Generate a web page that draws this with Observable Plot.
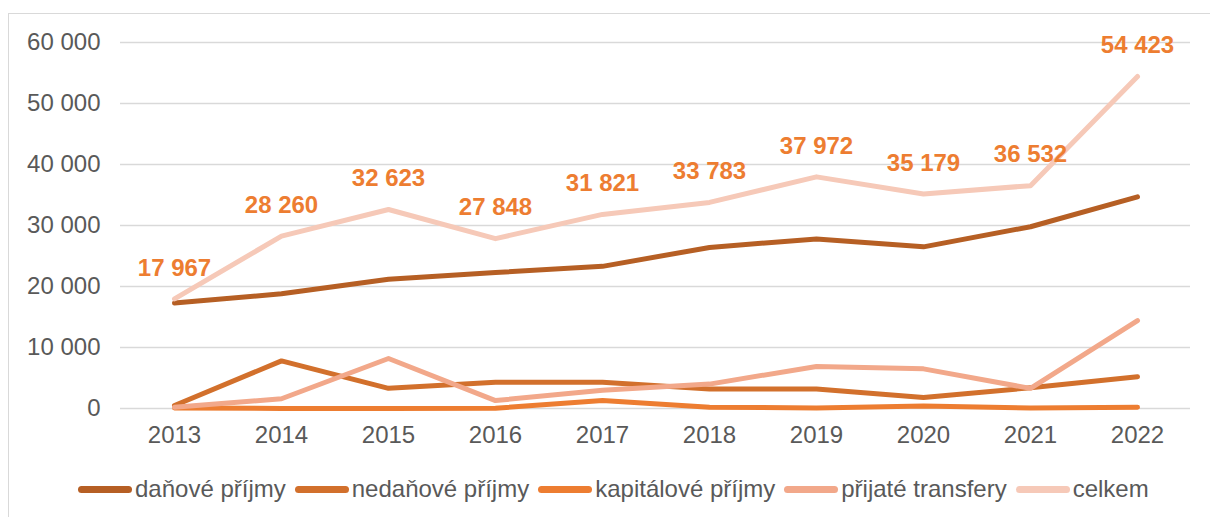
<!DOCTYPE html>
<html>
<head>
<meta charset="utf-8">
<script src="https://cdn.jsdelivr.net/npm/d3@7"></script>
<script src="https://cdn.jsdelivr.net/npm/@observablehq/plot@0.6"></script>
<style>
  html, body { margin: 0; padding: 0; background: #fff; }
  body { width: 1210px; height: 517px; position: relative; overflow: hidden; font-family: "Liberation Sans", Arial, sans-serif; }
  #frame { position: absolute; left: 8px; top: 13px; right: -5px; bottom: -5px; border-top: 1.5px solid #d9d9d9; border-left: 1.5px solid #d9d9d9; }
  #chart { position: absolute; left: 0; top: 0; }
  #legend { position: absolute; left: 78px; top: 475px; display: flex; gap: 9px; font-size: 24px; color: #595959; white-space: nowrap; }
  .item { display: flex; align-items: center; gap: 3px; }
  .sw { width: 54px; height: 7px; border-radius: 4px; }
</style>
</head>
<body>
<div id="frame"></div>
<div id="chart"></div>
<div id="legend"></div>
<script>
const years = ["2013","2014","2015","2016","2017","2018","2019","2020","2021","2022"];
const danove = [17300, 18800, 21200, 22300, 23300, 26400, 27800, 26500, 29800, 34700];
const nedanove = [500, 7800, 3300, 4300, 4300, 3200, 3200, 1800, 3400, 5200];
const kapitalove = [100, 0, 0, 50, 1300, 200, 100, 400, 100, 200];
const transfery = [200, 1600, 8200, 1300, 3000, 4000, 6900, 6500, 3300, 14400];
const celkem = [17967, 28260, 32623, 27848, 31821, 33783, 37972, 35179, 36532, 54423];
const yTicks = [0, 10000, 20000, 30000, 40000, 50000, 60000];

const seriesNames = ["daňové příjmy", "nedaňové příjmy", "kapitálové příjmy", "přijaté transfery", "celkem"];
const seriesValues = [danove, nedanove, kapitalove, transfery, celkem];
const seriesColors = ["#B65F24", "#D2702C", "#ED7D31", "#F2A88A", "#F6C9B8"];

const fmt = v => d3.format(",")(v).replace(/,/g, " ");

const rows = [];
seriesNames.forEach((name, i) => {
  years.forEach((y, j) => rows.push({series: name, year: y, value: seriesValues[i][j]}));
});
const totals = years.map((y, j) => ({year: y, value: celkem[j]}));

const marks = [
  Plot.gridY(yTicks, {stroke: "#d9d9d9", strokeOpacity: 1, strokeWidth: 1.5}),
  Plot.axisY(yTicks, {tickSize: 0, tickPadding: 20, tickFormat: fmt, fontSize: 24, fill: "#595959"}),
  Plot.axisX({tickSize: 0, tickPadding: 17, fontSize: 24, fill: "#595959"})
];
seriesNames.forEach((name, i) => {
  marks.push(Plot.line(rows.filter(r => r.series === name), {
    x: "year", y: "value", stroke: seriesColors[i], strokeWidth: 5,
    strokeLinecap: "round", strokeLinejoin: "round"
  }));
});
marks.push(Plot.text(totals, {
  x: "year", y: "value", text: d => fmt(d.value), dy: -31,
  fill: "#ED7D31", fontSize: 24, fontWeight: "bold"
}));

const chart = Plot.plot({
  width: 1210,
  height: 460,
  marginLeft: 120,
  marginRight: 20,
  marginTop: 42,
  marginBottom: 52,
  style: {fontFamily: "Liberation Sans, Arial, sans-serif", background: "transparent", overflow: "visible"},
  x: {type: "point", domain: years, padding: 0.5, label: null},
  y: {domain: [0, 60000], label: null},
  marks
});
document.getElementById("chart").appendChild(chart);

const legend = document.getElementById("legend");
seriesNames.forEach((name, i) => {
  const it = document.createElement("div");
  it.className = "item";
  const sw = document.createElement("div");
  sw.className = "sw";
  sw.style.background = seriesColors[i];
  const t = document.createElement("span");
  t.textContent = name;
  it.appendChild(sw);
  it.appendChild(t);
  legend.appendChild(it);
});
</script>
</body>
</html>
